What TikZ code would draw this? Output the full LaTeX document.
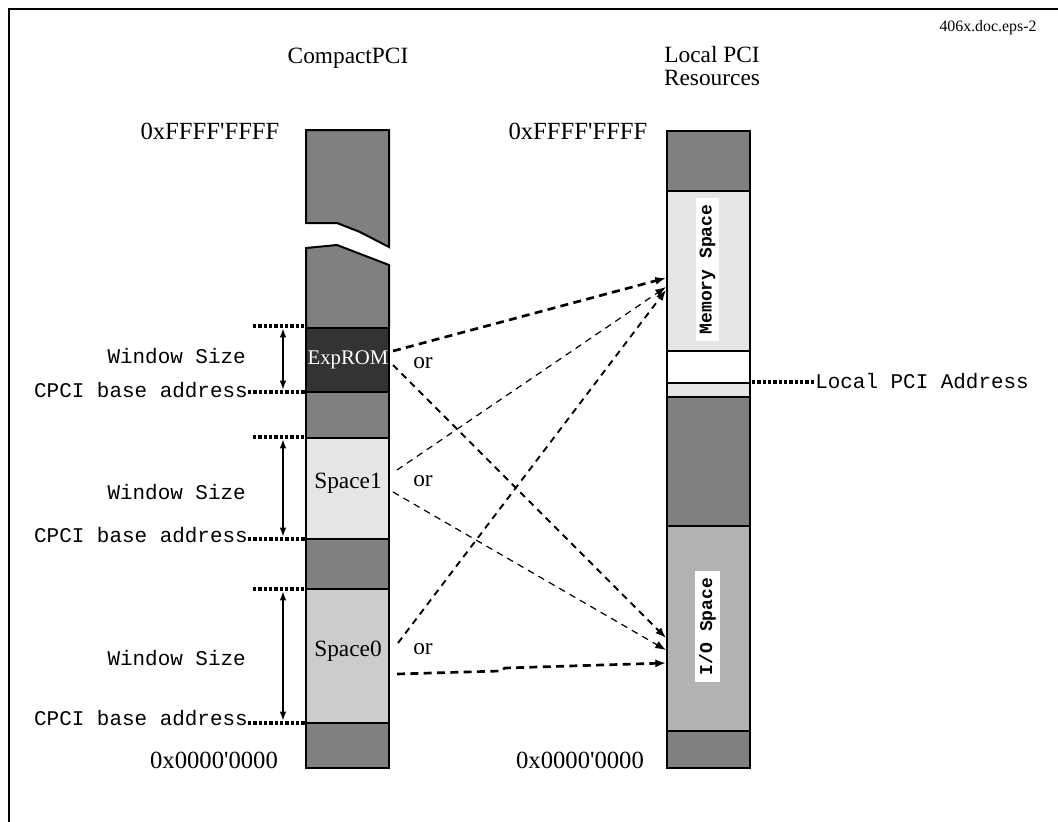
\documentclass[tikz,border=0pt]{standalone}
\usepackage{fontspec}
\setmainfont{Liberation Serif}
\setmonofont{Liberation Mono}
\usetikzlibrary{arrows.meta}
\tikzset{
  blk/.style={draw=black, line width=1.5pt},
  dk/.style={fill=black!50},
  hdr/.style={font=\fontsize{17.5}{17}\selectfont, align=center, inner sep=0pt},
  addr/.style={font=\fontsize{18.5}{19}\selectfont, inner sep=0pt},
  mono/.style={font=\ttfamily\fontsize{15.7}{17}\selectfont, inner sep=0pt},
  lbl/.style={font=\fontsize{17.5}{18}\selectfont, inner sep=0pt},
  rot/.style={font=\ttfamily\bfseries\fontsize{13.5}{14}\selectfont, fill=white, rotate=90, inner xsep=5pt, inner ysep=3pt},
  dots/.style={line width=2.6pt, dash pattern=on 2.4pt off 1.6pt},
  dim/.style={line width=1.6pt, {Latex[length=7pt,width=5pt]}-{Latex[length=7pt,width=5pt]}},
  thickarr/.style={line width=2pt, dash pattern=on 6pt off 4pt, -{Latex[length=8pt,width=6pt]}},
  midarr/.style={line width=1.4pt, dash pattern=on 5pt off 4pt, -{Latex[length=8pt,width=6pt]}},
  thinarr/.style={line width=0.9pt, dash pattern=on 5pt off 4pt, -{Latex[length=8pt,width=6pt]}},
}
\begin{document}
\begin{tikzpicture}[x=0.75pt,y=-0.75pt]
\useasboundingbox (0,0) rectangle (1058,822);
% frame
\draw[line width=1.9pt] (9,822) -- (9,9) -- (1058,9);
\node[font=\fontsize{11.9}{13}\selectfont, inner sep=0pt] (tag) at (988,28) {406x.doc.eps-2};
% headers
\node[hdr] (hcpci) at (348,58) {CompactPCI};
\node[hdr] (hloc) at (712,66) {Local PCI\\Resources};
\node[addr] (ltop) at (210,131) {0xFFFF\textquotesingle FFFF};
\node[addr] (rtop) at (578,131) {0xFFFF\textquotesingle FFFF};
\node[addr] (lbot) at (214,760) {0x0000\textquotesingle 0000};
\node[addr] (rbot) at (580,760) {0x0000\textquotesingle 0000};
% left column
\filldraw[blk,dk] (306,130) -- (389,130) -- (389,247) -- (360,232) -- (337,223) -- (306,223) -- cycle;
\filldraw[blk,dk] (306,248) -- (337,245) -- (389,265) -- (389,328) -- (306,328) -- cycle;
\filldraw[blk,fill=black!80] (306,328) rectangle (389,392);
\node[lbl, text=white, font=\fontsize{15.6}{16}\selectfont] (exprom) at (348,360) {ExpROM};
\filldraw[blk,dk] (306,392) rectangle (389,438);
\filldraw[blk,fill=black!10] (306,438) rectangle (389,539);
\node[lbl] (space1) at (348,483) {Space1};
\filldraw[blk,dk] (306,539) rectangle (389,589);
\filldraw[blk,fill=black!20] (306,589) rectangle (389,723);
\node[lbl] (space0) at (348,651) {Space0};
\filldraw[blk,dk] (306,723) rectangle (389,768);
% right column
\filldraw[blk,dk] (667,131) rectangle (750,191);
\filldraw[blk,fill=black!10] (667,191) rectangle (750,351);
\node[rot] (mem) at (707.5,269.5) {Memory Space};
\filldraw[blk,fill=white] (667,351) rectangle (750,383);
\filldraw[blk,fill=black!10] (667,383) rectangle (750,397);
\filldraw[blk,dk] (667,397) rectangle (750,526);
\filldraw[blk,fill=black!30] (667,526) rectangle (750,731);
\node[rot] (io) at (707.5,626.5) {I/O Space};
\filldraw[blk,dk] (667,731) rectangle (750,768);
% window labels
\node[mono, anchor=east] (ws1) at (246,356) {Window Size};
\node[mono, anchor=east] (ba1) at (248,390) {CPCI base address};
\node[mono, anchor=east] (ws2) at (246,492) {Window Size};
\node[mono, anchor=east] (ba2) at (248,535) {CPCI base address};
\node[mono, anchor=east] (ws3) at (246,658) {Window Size};
\node[mono, anchor=east] (ba3) at (248,718) {CPCI base address};
\node[mono, anchor=west] (lpa) at (815,381) {Local PCI Address};
% dotted guides
\coordinate (t1) at (253,326); \coordinate (t1e) at (305,326);
\coordinate (b1e) at (305,392);
\coordinate (t2) at (253,437); \coordinate (t2e) at (305,437);
\coordinate (b2e) at (305,539);
\coordinate (t3) at (253,589); \coordinate (t3e) at (305,589);
\coordinate (b3e) at (305,723);
\draw[dots] (t1) -- (t1e);
\draw[dots] (ba1.east |- b1e) -- (b1e);
\draw[dots] (t2) -- (t2e);
\draw[dots] (ba2.east |- b2e) -- (b2e);
\draw[dots] (t3) -- (t3e);
\draw[dots] (ba3.east |- b3e) -- (b3e);
\coordinate (lp) at (752,382);
\draw[dots] (lp) -- (lpa.west |- lp);
% dimension arrows
\draw[dim] (283,328) -- (283,390);
\draw[dim] (283,439) -- (283,537);
\draw[dim] (283,591) -- (283,721);
% or labels
\node[lbl] (or1) at (423,363) {or};
\node[lbl] (or2) at (423,481) {or};
\node[lbl] (or3) at (423,649) {or};
% connector endpoints
\coordinate (e1) at (393,351);
\coordinate (e2) at (393,365);
\coordinate (s1a) at (397,470);
\coordinate (s1b) at (393,492);
\coordinate (s0a) at (398,643);
\coordinate (s0b) at (397,674);
\coordinate (m1) at (666,278);
\coordinate (m2) at (666,287);
\coordinate (m3) at (666,290);
\coordinate (i1) at (666,638);
\coordinate (i2) at (666,650);
\coordinate (i3) at (666,663);
\draw[thickarr] (e1) -- (m1);
\draw[midarr] (e2) -- (i1);
\draw[thinarr] (s1a) -- (m2);
\draw[thinarr] (s1b) -- (i2);
\draw[midarr] (s0a) -- (m3);
\draw[thickarr] (s0b) -- (500,671) -- (505,668) -- (i3);
\end{tikzpicture}
\end{document}
